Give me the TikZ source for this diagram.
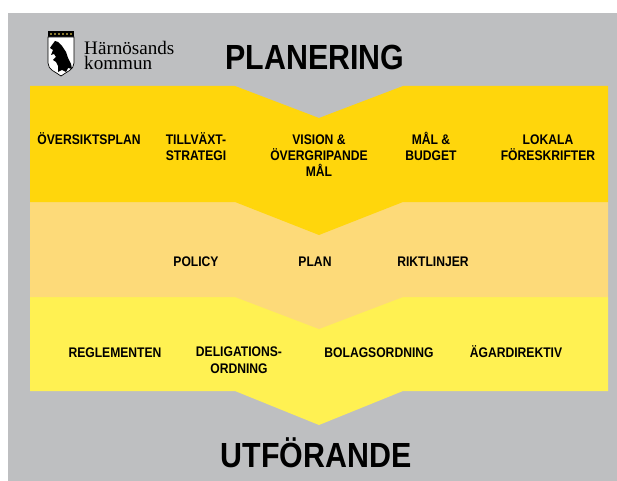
\documentclass[tikz,border=0pt]{standalone}
\usepackage{fontspec}
\setmainfont{Liberation Sans}
\newfontfamily\condfont{Liberation Sans}[FakeStretch=0.87]
\newfontfamily\logofont{Liberation Serif}
\definecolor{bggrey}{HTML}{BEBFC1}
\definecolor{bandA}{HTML}{FFD60C}
\definecolor{bandB}{HTML}{FDDA79}
\definecolor{bandC}{HTML}{FFF152}
\definecolor{crowngold}{HTML}{8A7A30}
\begin{document}
\begin{tikzpicture}[x=0.03cm, y=-0.03cm,
  lbl/.style={font=\condfont\bfseries\fontsize{11.9}{13.7}\selectfont, align=center, anchor=base, inner sep=0},
  head/.style={font=\condfont\bfseries\fontsize{29.8}{30}\selectfont, anchor=base, inner sep=0},
  logotext/.style={font=\logofont\fontsize{16.3}{16}\selectfont, anchor=base west, inner sep=0, text height=10pt, text depth=0pt}]
\useasboundingbox (0,0) rectangle (617,481);
\fill[bggrey] (8,13) rectangle (617,481);

% bands, lowest first
\fill[bandC] (30,297) -- (608,297) -- (608,391) -- (403,391) -- (319,425) -- (235,391) -- (30,391) -- cycle;
\fill[bandB] (30,202) -- (608,202) -- (608,297) -- (403,297) -- (319,329) -- (235,297) -- (30,297) -- cycle;
\fill[bandA] (30,86) -- (235,86) -- (319,118) -- (403,86) -- (608,86) -- (608,202) -- (403,202) -- (319,235) -- (235,202) -- (30,202) -- cycle;

% logo
\fill (48,31) rectangle (74,37);
\foreach \x in {50,54,...,72}
  \fill[crowngold] (\x,33) rectangle (\x+2,35);
\filldraw[fill=white, line width=0.6pt] (48,37) -- (74,37) -- (74,63) .. controls (74,70) and (66,72) .. (61,76) .. controls (56,72) and (48,70) .. (48,63) -- cycle;
\fill (52,45) -- (55,41) -- (58,42) -- (62,46) -- (66,52) -- (68,58) -- (71,64) -- (72,69) -- (68,68) -- (66,72) -- (62,70) -- (58,72) -- (58,66) -- (56,62) -- (53,60) -- (56,57) -- (54,54) -- (51,55) -- (53,50) -- (50,48) -- cycle;
\node[logotext] (logo1) at (84,55) {Härnösands};
\node[logotext] (logo2) at (84,70) {kommun};

% titles
\node[head] (planering) at (315,70) {PLANERING};
\node[head] (utforande) at (316,467) {UTFÖRANDE};

% first band (base = last line)
\node[lbl] (oversikt) at (89,145) {ÖVERSIKTSPLAN};
\node[lbl] (tillvaxt) at (196,161) {TILLVÄXT-\\STRATEGI};
\node[lbl] (vision) at (319,177) {VISION \&\\ÖVERGRIPANDE\\MÅL};
\node[lbl] (budget) at (431,161) {MÅL \&\\BUDGET};
\node[lbl] (lokala) at (548,161) {LOKALA\\FÖRESKRIFTER};

% second band
\node[lbl] (policy) at (196,266) {POLICY};
\node[lbl] (plan) at (315,266) {PLAN};
\node[lbl] (riktlinjer) at (433,266) {RIKTLINJER};

% third band
\node[lbl] (reglementen) at (115,357) {REGLEMENTEN};
\node[lbl] (delig) at (239,373) {DELIGATIONS-\\ORDNING};
\node[lbl] (bolag) at (379,357) {BOLAGSORDNING};
\node[lbl] (agardir) at (516,357) {ÄGARDIREKTIV};
\end{tikzpicture}
\end{document}
